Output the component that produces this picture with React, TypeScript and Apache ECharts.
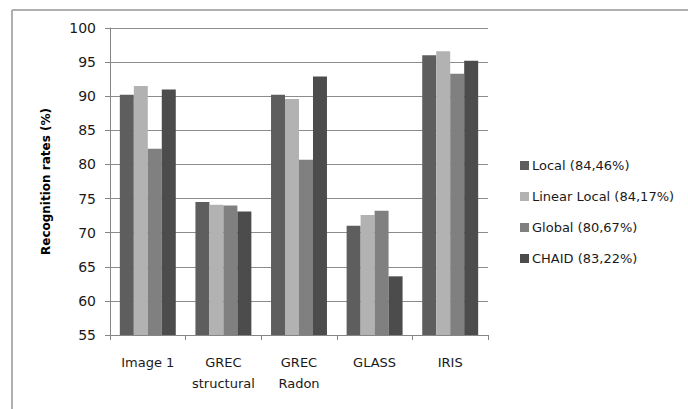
import React, { useEffect, useRef } from "react";
import * as echarts from "echarts";

const categories = ["Image 1", "GREC\nstructural", "GREC\nRadon", "GLASS", "IRIS"];
const seriesNames = ["Local (84,46%)", "Linear Local (84,17%)", "Global (80,67%)", "CHAID (83,22%)"];
const localValues = [90.2, 74.5, 90.2, 71.0, 96.0];
const linearLocalValues = [91.5, 74.1, 89.6, 72.6, 96.6];
const globalValues = [82.3, 74.0, 80.7, 73.2, 93.3];
const chaidValues = [91.0, 73.1, 92.9, 63.6, 95.2];
const yTicks = { min: 55, max: 100, interval: 5 };
const colors = ["#5e5e5e", "#b2b2b2", "#808080", "#4c4c4c"];

export default function App() {
  const ref = useRef<HTMLDivElement>(null);
  useEffect(() => {
    document.body.style.margin = "0";
    const chart = echarts.init(ref.current!, null, { renderer: "svg" });
    const allValues = [localValues, linearLocalValues, globalValues, chaidValues];
    const font = "DejaVu Sans";
    chart.setOption({
      animation: false,
      backgroundColor: "#ffffff",
      grid: { left: 110, top: 28, right: 200, bottom: 74, containLabel: false },
      legend: {
        orient: "vertical",
        left: 515,
        top: 154,
        itemWidth: 9,
        itemHeight: 9,
        itemGap: 18,
        icon: "rect",
        textStyle: { fontFamily: font, fontSize: 13, color: "#1a1a1a", padding: [0, 0, 0, -2] },
        data: seriesNames,
      },
      xAxis: {
        type: "category",
        data: categories,
        axisLine: { lineStyle: { color: "#868686", width: 1 } },
        axisTick: { show: true, length: 5, alignWithLabel: false, lineStyle: { color: "#868686" } },
        axisLabel: { interval: 0, fontFamily: font, fontSize: 13, color: "#1a1a1a", margin: 17, lineHeight: 21 },
      },
      yAxis: {
        type: "value",
        min: yTicks.min,
        max: yTicks.max,
        interval: yTicks.interval,
        name: "Recognition rates (%)",
        nameLocation: "middle",
        nameRotate: 90,
        nameGap: 58,
        nameTextStyle: { fontFamily: font, fontSize: 12, fontWeight: "bold", color: "#000" },
        axisLine: { show: true, lineStyle: { color: "#868686", width: 1 } },
        axisTick: { show: true, length: 5, lineStyle: { color: "#868686" } },
        axisLabel: { fontFamily: font, fontSize: 14, color: "#1a1a1a", margin: 14 },
        splitLine: { lineStyle: { color: "#8c8c8c", width: 1 } },
      },
      graphic: [
        { type: "line", shape: { x1: 12, y1: 10, x2: 688, y2: 10 }, style: { stroke: "#b0b0b0", lineWidth: 2 } },
        { type: "line", shape: { x1: 12, y1: 10, x2: 12, y2: 409 }, style: { stroke: "#b0b0b0", lineWidth: 2 } },
      ],
      series: seriesNames.map((name, i) => ({
        name,
        type: "bar",
        data: allValues[i],
        barGap: "0%",
        barCategoryGap: "26%",
        itemStyle: { color: colors[i] },
      })),
    });
    return () => chart.dispose();
  }, []);
  return <div ref={ref} style={{ width: 688, height: 409 }} />;
}
